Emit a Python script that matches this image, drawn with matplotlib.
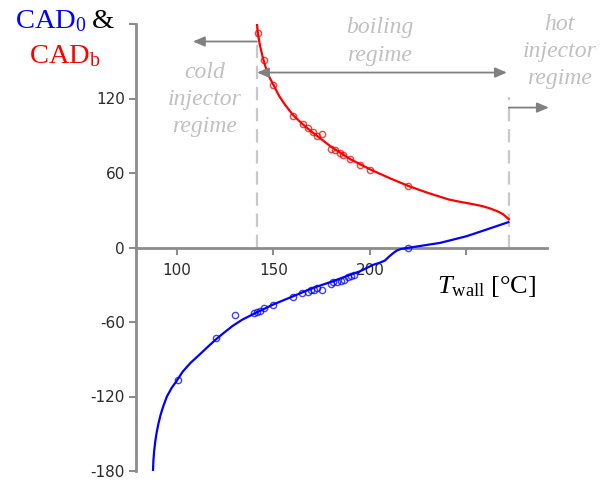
import matplotlib
matplotlib.use("Agg")
import matplotlib.pyplot as plt

plt.rcParams['mathtext.fontset'] = 'custom'
plt.rcParams['mathtext.rm'] = 'Liberation Serif'
plt.rcParams['mathtext.it'] = 'Liberation Serif:italic'
plt.rcParams['mathtext.bf'] = 'Liberation Serif:bold'

# ---------------- data ----------------
# fitted CAD_b curve (red)
red_T = [141.5, 142, 143, 144.5, 146, 148, 150, 153, 156, 160, 165, 170, 175, 180,
         185, 190, 195, 200, 210, 220, 230, 241, 247, 253, 258, 262, 266, 269, 272]
red_C = [180, 172, 163, 153, 145, 137, 131, 122, 115, 107, 99.5, 93, 87, 81,
         76, 71, 67, 63, 56, 49.5, 44, 38.6, 36.7, 35, 33.4, 31.6, 29.2, 26.8, 22.8]
# measured CAD_b points
red_pT = [142, 145, 150, 159.9, 165.1, 168, 170.6, 172.4, 175, 179.8, 181.9, 184.5,
          186.2, 189.6, 194.8, 200, 219.8]
red_pC = [173, 151, 131, 106.3, 99.6, 96.4, 92.8, 90.2, 91.5, 79.7, 78.4, 76.2,
          74.1, 70.9, 66.3, 62.8, 49.4]

# fitted CAD_0 curve (blue)
blue_T = [87.6, 87.8, 88.2, 88.8, 89.5, 90.4, 91.5, 92.9, 94.8, 97.3, 99.8, 103, 107,
          111.9, 116, 120.2, 124.5, 129, 134, 139.9, 149.9, 160.3, 170.6, 181, 188,
          194.8, 201.6, 205, 207.8, 210, 212.1, 214, 216, 219.8, 227.6, 236.3, 250.1,
          260.5, 271.7]
blue_C = [-180, -172, -164, -156, -149, -142, -135, -128, -120, -113, -107.6, -100,
          -93, -86, -80, -74, -68.5, -63, -58, -53.4, -45.9, -39.2, -32.5, -27.1, -23,
          -19.2, -14, -12.3, -10.5, -7.2, -4.5, -2.4, -1.2, -0.3, 1.6, 3.7, 9.1, 14.5,
          20.4]
# measured CAD_0 points
blue_pT = [100.5, 120, 130, 140, 141.5, 143, 145, 150, 160, 164.8, 168, 169.5, 171,
           172.5, 175, 180, 181, 183, 185, 186.5, 188.6, 190, 192, 219.7]
blue_pC = [-107, -73, -54, -53, -52, -51, -49, -46, -39.5, -37, -35.5, -34.6, -34,
           -32.5, -34.5, -29, -28, -27.4, -26.6, -25.8, -24, -23, -22, 0]

x_ticks = [100, 150, 200, 250]
x_tick_labels = ['100', '150', '200', '']
y_ticks = [-180, -120, -60, 0, 60, 120, 180]
y_tick_labels = ['-180', '-120', '-60', '0', '60', '120', '']

T_cold = 141.5
T_hot = 272

# ---------------- figure ----------------
W, H = 600, 484
fig = plt.figure(figsize=(W / 100, H / 100), dpi=100)
xmin, xmax = 78.8, 292
ax = fig.add_axes([136 / W, 13 / H, (xmax - xmin) * 1.93 / W, 447 / H])
ax.set_xlim(xmin, xmax)
ax.set_ylim(-180, 180)

gray = '#8c8c8c'
for s in ['top', 'right']:
    ax.spines[s].set_visible(False)
ax.spines['left'].set_color(gray)
ax.spines['left'].set_linewidth(2)
ax.spines['bottom'].set_position(('data', 0))
ax.spines['bottom'].set_color(gray)
ax.spines['bottom'].set_linewidth(2)
ax.set_xticks(x_ticks)
ax.set_xticklabels(x_tick_labels)
ax.set_yticks(y_ticks)
ax.set_yticklabels(y_tick_labels)
ax.tick_params(axis='both', direction='out', length=5, width=1.5, color=gray,
               labelsize=11, labelcolor='#2a2a2a', pad=3)
ax.tick_params(axis='x', pad=6)
for lab in ax.get_xticklabels() + ax.get_yticklabels():
    lab.set_family('DejaVu Sans')

# regime boundaries
ax.plot([T_cold, T_cold], [0, 178], color='#c8c8c8', lw=1.6, ls=(0, (6, 3.5)), zorder=1)
ax.plot([T_hot, T_hot], [0, 121.6], color='#c8c8c8', lw=1.6, ls=(0, (6, 3.5)), zorder=1)

# curves and points
ax.plot(red_T, red_C, color='#ff0000', lw=1.6, zorder=3)
ax.plot(red_pT, red_pC, ls='none', marker='o', ms=4.5, mfc='none', mec='#ff0000',
        mew=1.0, alpha=0.75, zorder=4)
ax.plot(blue_T, blue_C, color='#0000ff', lw=1.6, zorder=3)
ax.plot(blue_pT, blue_pC, ls='none', marker='o', ms=4.5, mfc='none', mec='#0000ff',
        mew=1.0, alpha=0.75, zorder=4)

# arrows
astyle = dict(arrowstyle='-|>,head_length=0.7,head_width=0.3', color='#808080',
              lw=1.3, mutation_scale=10, shrinkA=0, shrinkB=0)
ax.annotate('', xy=(108.3, 165.9), xytext=(T_cold, 165.9), arrowprops=astyle,
            annotation_clip=False)
ax.annotate('', xy=(T_cold, 140.9), xytext=(271, 140.9),
            arrowprops=dict(astyle, arrowstyle='<|-|>,head_length=0.7,head_width=0.3'),
            annotation_clip=False)
ax.annotate('', xy=(292.7, 112.7), xytext=(T_hot, 112.7), arrowprops=astyle,
            annotation_clip=False)

# regime labels
rfont = dict(family='Liberation Serif', style='italic', color='#c0c0c0',
             fontsize=17, ha='center', va='center', linespacing=1.4)
ax.text(114.5, 119.2, 'cold\ninjector\nregime', **rfont)
ax.text(205.2, 165.9, 'boiling\nregime', **rfont)
ax.text(298.4, 157.8, 'hot\ninjector\nregime', clip_on=False, **rfont)

# titles in figure pixels
def fx(px):
    return px / W

def fy(py):
    return 1 - py / H

fig.text(fx(15), fy(28), r'$\mathrm{CAD}_0$', color='#0000ff', fontsize=20.5,
         family='Liberation Serif', va='baseline')
fig.text(fx(92), fy(28), '&', color='black', fontsize=20.5,
         family='Liberation Serif', va='baseline')
fig.text(fx(29), fy(63), r'$\mathrm{CAD}_\mathrm{b}$', color='#ff0000', fontsize=20.5,
         family='Liberation Serif', va='baseline')
fig.text(fx(437), fy(293), r'$T_{\mathrm{wall}}$ [°C]', color='black', fontsize=19,
         family='Liberation Serif', va='baseline')

fig.savefig('out.png', dpi=100)
